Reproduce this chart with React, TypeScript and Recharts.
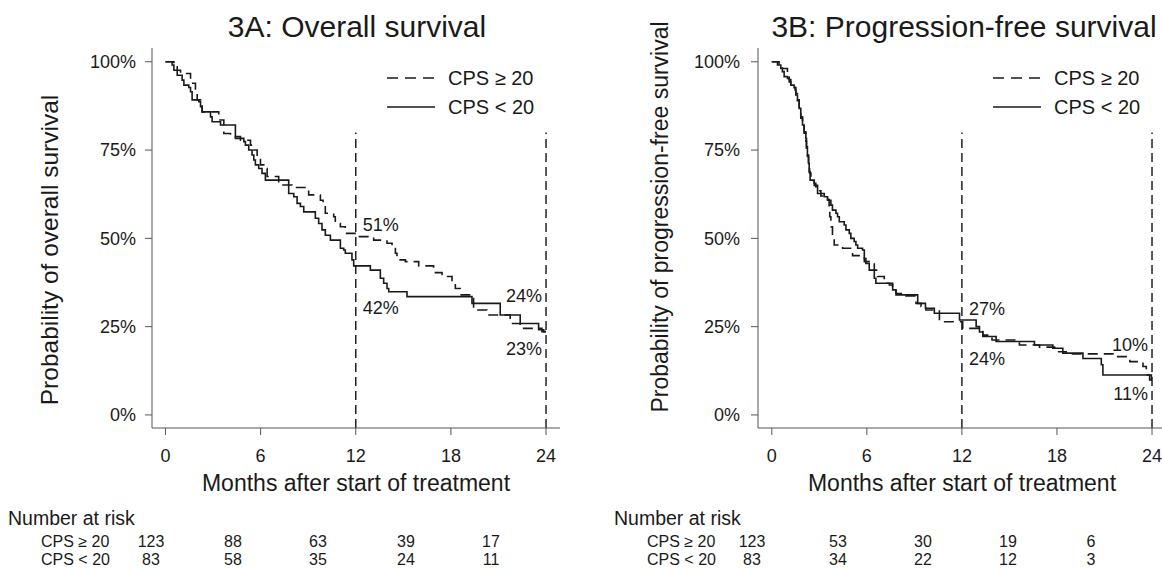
import React from 'react';
import { LineChart, Line, XAxis, YAxis, ReferenceLine, ReferenceDot } from 'recharts';

const FONT = '"Liberation Sans", Arial, Helvetica, sans-serif';
const INK = '#1a1a1a';
const AXIS = '#555555';

const monthTicks = [0, 6, 12, 18, 24];
const pctTicks = [0, 25, 50, 75, 100];
const groupNames = ['CPS \u2265 20', 'CPS < 20'];
const milestoneMonths = [12, 24];

// 3A Overall survival
const osHighT = [0, 0.53, 0.74, 0.95, 1.58, 1.89, 2.0, 2.21, 2.31, 3.36, 3.68, 4.1, 4.73, 5.36, 5.57, 5.78, 5.99, 6.2, 6.41, 7.14, 7.98, 9.03, 9.77, 9.94, 10.08, 10.61, 10.71, 11.03, 11.34, 12.08, 13.13, 13.97, 14.29, 14.5, 14.6, 15.13, 15.97, 16.91, 17.44, 18.07, 18.28, 18.59, 19.43, 20.27, 21.74, 22.37, 23.74, 24.0];
const osHighS = [100, 98.6, 97.6, 96.7, 93.9, 91.0, 89.2, 88.2, 85.8, 83.5, 79.7, 78.8, 77.8, 76.4, 75.0, 73.1, 70.8, 69.8, 67.5, 65.1, 64.4, 62.3, 60.8, 59.4, 57.1, 56.1, 54.2, 53.3, 51.4, 50.5, 49.5, 48.6, 47.6, 45.8, 43.9, 43.4, 42.2, 40.3, 39.2, 37.3, 35.8, 34.0, 29.7, 28.3, 25.9, 24.5, 23.6, 23.6];
const osLowT = [0, 0.42, 0.53, 0.74, 1.05, 1.16, 1.47, 1.58, 1.68, 2.1, 2.21, 2.31, 2.84, 2.94, 3.47, 4.41, 4.94, 5.04, 5.25, 5.46, 5.57, 5.67, 5.88, 6.09, 6.3, 7.77, 8.09, 8.3, 8.51, 8.72, 9.45, 9.66, 9.87, 10.08, 10.4, 11.03, 11.24, 11.34, 11.76, 11.87, 12.92, 13.55, 13.76, 13.97, 14.08, 15.23, 19.33, 21.11, 22.37, 23.53, 23.85, 24.0];
const osLowS = [100, 99.1, 97.6, 96.2, 94.8, 93.4, 92.7, 91.5, 89.2, 88.7, 87.3, 85.8, 84.4, 83.0, 82.1, 78.3, 77.4, 76.4, 75.0, 73.6, 72.2, 70.8, 69.8, 68.4, 66.5, 62.7, 61.8, 59.9, 59.0, 57.5, 55.7, 54.2, 52.4, 50.9, 49.5, 47.2, 46.7, 45.8, 43.9, 42.2, 41.0, 38.7, 37.3, 35.8, 34.9, 33.5, 31.6, 28.3, 25.9, 24.1, 23.6, 23.6];

// 3B Progression-free survival
const pfsHighT = [0, 0.46, 0.67, 0.99, 1.1, 1.2, 1.41, 1.52, 1.62, 1.73, 1.83, 1.94, 2.04, 2.15, 2.19, 2.25, 2.32, 2.38, 2.47, 2.68, 2.89, 3.1, 3.52, 3.62, 3.66, 3.73, 3.83, 3.94, 4.47, 5.1, 5.84, 6.47, 6.68, 7.1, 7.21, 7.63, 7.84, 8.47, 9.1, 9.42, 9.73, 10.58, 12.05, 13.32, 13.9, 15.63, 16.9, 17.85, 18.58, 21.74, 22.6, 23.43, 23.64, 23.96, 24.0];
const pfsHighS = [100, 99.1, 98.1, 96.7, 95.0, 93.4, 92.7, 91.0, 89.0, 86.5, 84.0, 81.8, 79.8, 77.5, 75.5, 73.2, 70.8, 68.5, 66.3, 65.0, 63.5, 62.0, 61.0, 59.0, 56.1, 53.3, 50.5, 48.1, 47.2, 45.1, 43.4, 41.0, 39.2, 38.2, 37.3, 36.3, 34.4, 33.7, 31.6, 30.7, 29.7, 26.4, 24.5, 22.6, 21.2, 19.8, 19.2, 17.9, 17.3, 16.5, 15.1, 13.7, 11.3, 9.9, 9.9];
const pfsLowT = [0, 0.36, 0.57, 0.67, 0.78, 0.99, 1.1, 1.2, 1.41, 1.47, 1.52, 1.62, 1.73, 1.83, 1.94, 2.04, 2.15, 2.19, 2.25, 2.32, 2.36, 2.42, 2.68, 2.78, 2.89, 3.31, 3.52, 3.73, 3.83, 4.05, 4.15, 4.26, 4.57, 4.68, 4.89, 4.99, 5.2, 5.31, 5.42, 5.73, 5.84, 5.94, 6.15, 6.47, 6.57, 7.42, 7.63, 7.84, 9.21, 9.7, 10.26, 11.85, 12.9, 13.11, 13.32, 14.16, 16.58, 17.74, 18.37, 19.64, 20.8, 20.9, 23.85, 24.0];
const pfsLowS = [100, 99.1, 98.1, 97.2, 95.8, 95.3, 94.3, 93.4, 92.7, 92.0, 90.6, 89.2, 86.8, 84.4, 82.1, 80.2, 78.3, 75.9, 73.6, 71.2, 68.9, 66.5, 65.6, 64.6, 62.7, 61.8, 60.8, 59.4, 58.0, 57.1, 56.1, 54.7, 53.8, 52.4, 51.4, 50.0, 49.1, 48.1, 47.2, 46.7, 44.3, 42.9, 41.0, 38.7, 37.3, 36.8, 35.4, 34.0, 31.6, 30.2, 28.8, 26.9, 25.0, 23.5, 22.2, 20.8, 19.8, 18.9, 17.5, 16.0, 14.2, 11.3, 9.9, 9.9];

// Number at risk
const osRiskHigh = [123, 88, 63, 39, 17];
const osRiskLow = [83, 58, 35, 24, 11];
const pfsRiskHigh = [123, 53, 30, 19, 6];
const pfsRiskLow = [83, 34, 22, 12, 3];

// milestone annotations: text, [month, level %]
const osNoteText = ['51%', '42%', '24%', '23%'];
const osNoteAt = [[12, 54], [12, 30.3], [24, 33.7], [24, 18.7]];
const pfsNoteText = ['27%', '24%', '10%', '11%'];
const pfsNoteAt = [[12, 30], [12, 15.9], [24, 20], [24, 6]];

const zip = (t: number[], s: number[]) => t.map((x, i) => ({ t: x, s: s[i] }));

type PanelProps = {
  left: number;
  width: number;
  yAxisW: number;
  xDomain: [number, number];
  high: { t: number; s: number }[];
  low: { t: number; s: number }[];
  noteText: string[];
  noteAt: number[][];
  tickMarginY: number;
};

const Y_DOMAIN: [number, number] = [-3.7, 103.9];

function Panel(p: PanelProps) {
  return (
    <div style={{ position: 'absolute', left: p.left, top: 0 }}>
      <LineChart width={p.width} height={569} margin={{ top: 48, right: 0, bottom: 0, left: 0 }}>
        <XAxis
          type="number"
          dataKey="t"
          domain={p.xDomain}
          allowDataOverflow
          ticks={monthTicks}
          height={141}
          tickSize={7}
          tickMargin={14}
          stroke={AXIS}
          tick={{ fill: INK, fontSize: 18, fontFamily: FONT }}
        />
        <YAxis
          type="number"
          dataKey="s"
          domain={Y_DOMAIN}
          allowDataOverflow
          ticks={pctTicks}
          width={p.yAxisW}
          tickSize={7}
          tickMargin={p.tickMarginY}
          stroke={AXIS}
          tickFormatter={(v: number) => `${v}%`}
          tick={{ fill: INK, fontSize: 18, fontFamily: FONT }}
        />
        {milestoneMonths.map((m) => (
          <ReferenceLine
            key={m}
            segment={[{ x: m, y: Y_DOMAIN[0] }, { x: m, y: 80 }]}
            stroke="#222"
            strokeWidth={1.5}
            strokeDasharray="9 5"
          />
        ))}
        <Line
          data={p.high}
          dataKey="s"
          type="stepAfter"
          stroke="#1a1a1a"
          strokeWidth={1.6}
          strokeDasharray="10 6"
          dot={false}
          isAnimationActive={false}
        />
        <Line
          data={p.low}
          dataKey="s"
          type="stepAfter"
          stroke="#1a1a1a"
          strokeWidth={1.6}
          dot={false}
          isAnimationActive={false}
        />
        {p.noteText.map((txt, i) => {
          const [mx, my] = p.noteAt[i];
          const anchorEnd = mx >= 24;
          return (
            <ReferenceDot
              key={txt + i}
              x={mx}
              y={my}
              r={0}
              shape={(sp: any) => (
                <text
                  x={sp.cx + (anchorEnd ? -4 : 7)}
                  y={sp.cy}
                  dy="0.36em"
                  textAnchor={anchorEnd ? 'end' : 'start'}
                  fontSize={18}
                  fontFamily={FONT}
                  fill={INK}
                >
                  {txt}
                </text>
              )}
            />
          );
        })}
      </LineChart>
    </div>
  );
}

function Legend({ x, y }: { x: number; y: number }) {
  return (
    <g>
      <line x1={x} x2={x + 48} y1={y} y2={y} stroke="#1a1a1a" strokeWidth={1.6} strokeDasharray="11 7" />
      <text x={x + 61} y={y + 7} fontSize={20} fontFamily={FONT} fill={INK}>{groupNames[0]}</text>
      <line x1={x} x2={x + 48} y1={y + 29} y2={y + 29} stroke="#1a1a1a" strokeWidth={1.6} />
      <text x={x + 61} y={y + 36} fontSize={20} fontFamily={FONT} fill={INK}>{groupNames[1]}</text>
    </g>
  );
}

function RiskTable({ x, cols, high, low }: { x: number; cols: number[]; high: number[]; low: number[] }) {
  return (
    <g fontFamily={FONT} fill={INK}>
      <text x={x} y={525} fontSize={19.5}>Number at risk</text>
      <text x={x + 33} y={547} fontSize={16}>{groupNames[0]}</text>
      <text x={x + 33} y={565} fontSize={16}>{groupNames[1]}</text>
      {high.map((v, i) => (
        <text key={'h' + i} x={cols[i]} y={547} fontSize={16} textAnchor="middle">{v}</text>
      ))}
      {low.map((v, i) => (
        <text key={'l' + i} x={cols[i]} y={565} fontSize={16} textAnchor="middle">{v}</text>
      ))}
    </g>
  );
}

export default function App() {
  return (
    <div
      style={{
        position: 'absolute',
        left: 0,
        top: 0,
        width: 1162,
        height: 569,
        overflow: 'hidden',
        background: '#ffffff',
      }}
    >
      <Panel
        left={0}
        width={560}
        yAxisW={152}
        xDomain={[-0.85, 24.88]}
        high={zip(osHighT, osHighS)}
        low={zip(osLowT, osLowS)}
        noteText={osNoteText}
        noteAt={osNoteAt}
        tickMarginY={9}
      />
      <Panel
        left={580}
        width={582}
        yAxisW={178}
        xDomain={[-0.87, 24.63]}
        high={zip(pfsHighT, pfsHighS)}
        low={zip(pfsLowT, pfsLowS)}
        noteText={pfsNoteText}
        noteAt={pfsNoteAt}
        tickMarginY={11}
      />
      <svg
        width={1162}
        height={569}
        style={{ position: 'absolute', left: 0, top: 0, pointerEvents: 'none' }}
      >
        <g fontFamily={FONT} fill={INK}>
          <text x={357} y={37} fontSize={30} textAnchor="middle">3A: Overall survival</text>
          <text x={964} y={37} fontSize={30} textAnchor="middle">3B: Progression-free survival</text>
          <text x={356} y={491} fontSize={23} textAnchor="middle">Months after start of treatment</text>
          <text x={962} y={491} fontSize={23} textAnchor="middle">Months after start of treatment</text>
          <text transform="translate(58,250) rotate(-90)" fontSize={24.5} textAnchor="middle">Probability of overall survival</text>
          <text transform="translate(668,217) rotate(-90)" fontSize={23} textAnchor="middle">Probability of progression-free survival</text>
        </g>
        <Legend x={387} y={78} />
        <Legend x={993} y={78} />
        <RiskTable x={8} cols={[151, 233, 318, 406, 491]} high={osRiskHigh} low={osRiskLow} />
        <RiskTable x={614} cols={[752, 838, 923, 1008, 1091]} high={pfsRiskHigh} low={pfsRiskLow} />
      </svg>
    </div>
  );
}
